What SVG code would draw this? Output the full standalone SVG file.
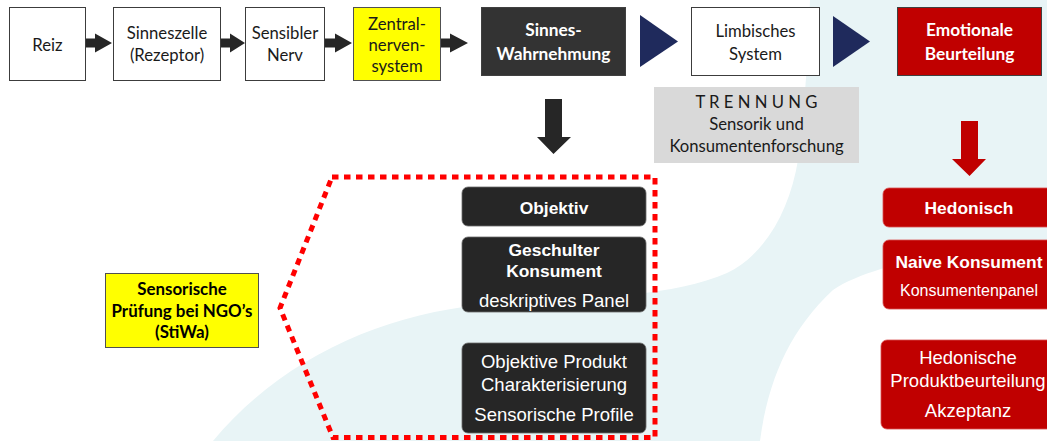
<svg xmlns="http://www.w3.org/2000/svg" width="1047" height="441" viewBox="0 0 1047 441">
<defs>
<style>
.bg{fill:#e8f4f6}
.box{fill:#ffffff;stroke:#3c3c3c;stroke-width:1}
.yel{fill:#ffff00;stroke:#505050;stroke-width:1}
.dkh{fill:#333333;stroke:#404040;stroke-width:1}
.rdh{fill:#c00000;stroke:#404040;stroke-width:1}
.gray{fill:#d9d9d9}
.arr{fill:#262626}
.navy{fill:#1f2a5c}
.rarr{fill:#c00000}
.dk{fill:#262626;stroke:#6a6a6a;stroke-width:0.8}
.rd{fill:#c00000;stroke:#d85050;stroke-width:0.8}
.dots{fill:none;stroke:#ff0000;stroke-width:5;stroke-dasharray:6.5 5.5}
.c{font-family:Lato,"Open Sans","Liberation Sans",sans-serif;font-size:16.7px;fill:#1a1a1a;text-anchor:middle}
.cb{font-family:Lato,"Open Sans","Liberation Sans",sans-serif;font-size:17.3px;font-weight:bold;text-anchor:middle}
.a{font-family:"Liberation Sans",Arial,sans-serif;font-size:18.5px;fill:#ffffff;text-anchor:middle}
.ab{font-family:"Liberation Sans",Arial,sans-serif;font-size:17.4px;font-weight:bold;fill:#ffffff;text-anchor:middle}
.wf{fill:#ffffff}
.kf{fill:#000000;font-size:16.9px}
</style>
</defs>
<rect width="1047" height="441" fill="#ffffff"/>
<path class="bg" d="M810,0 H1047 V245 C950,250 870,265 833,290 C790,330 768,380 760,441 H213 C280,360 380,315 480,305 C580,298 670,298 727,273 C765,255 790,210 798,160 C805,110 808,50 810,0 Z"/>

<g id="connectors">
<path class="arr" d="M86,38.5 H95 V33.5 L112,43 L95,52.5 V47.5 H86 Z"/>
<path class="arr" d="M221,38.5 H230 V33.5 L245,43 L230,52.5 V47.5 H221 Z"/>
<path class="arr" d="M325,38.5 H335 V33.5 L352,43 L335,52.5 V47.5 H325 Z"/>
<path class="arr" d="M441,38.5 H450 V33.5 L468,43 L450,52.5 V47.5 H441 Z"/>
<path class="navy" d="M640,15 L678,41.5 L640,67 Z"/>
<path class="navy" d="M833,16 L870,41.5 L833,67 Z"/>
<path class="arr" d="M545,99 H562 V137 H571 L553.5,154 L537,137 H545 Z"/>
<path class="rarr" d="M961,121 H978 V159 H986 L969.5,176 L952,159 H961 Z"/>
<path class="dots" d="M332,177 H655 V437.5 H333 L280,308 Z"/>
</g>

<g id="reiz"><rect class="box" x="9.5" y="7.5" width="76" height="73"/><text class="c" x="47.5" y="51">Reiz</text></g>
<g id="sinneszelle"><rect class="box" x="113.5" y="7.5" width="107" height="73"/><text class="c" x="167" y="39">Sinneszelle</text><text class="c" x="167" y="61">(Rezeptor)</text></g>
<g id="nerv"><rect class="box" x="245.5" y="7.5" width="79" height="73"/><text class="c" x="285" y="39">Sensibler</text><text class="c" x="285" y="61">Nerv</text></g>
<g id="zns"><rect class="yel" x="353.5" y="7.5" width="87" height="73"/><text class="c" x="397" y="29.5">Zentral-</text><text class="c" x="397" y="50.5">nerven-</text><text class="c" x="397" y="71.5">system</text></g>
<g id="wahrnehmung"><rect class="dkh" x="481.5" y="7.5" width="144" height="68"/><text class="cb wf" x="553.5" y="36">Sinnes-</text><text class="cb wf" x="553.5" y="60">Wahrnehmung</text></g>
<g id="limbisch"><rect class="box" x="691.5" y="7.5" width="128" height="68"/><text class="c" x="755.5" y="37">Limbisches</text><text class="c" x="755.5" y="60">System</text></g>
<g id="emotional"><rect class="rdh" x="897.5" y="7.5" width="144" height="68"/><text class="cb wf" x="969.5" y="36">Emotionale</text><text class="cb wf" x="969.5" y="60">Beurteilung</text></g>

<g id="trennung"><rect class="gray" x="654" y="87" width="205" height="76"/><text class="c" x="756.5" y="108">T R E N N U N G</text><text class="c" x="756.5" y="130">Sensorik und</text><text class="c" x="756.5" y="152">Konsumentenforschung</text></g>

<g id="ngo"><rect class="yel" x="105.5" y="273.5" width="153" height="74"/><text class="cb kf" x="182" y="295">Sensorische</text><text class="cb kf" x="182" y="317">Prüfung bei NGO’s</text><text class="cb kf" x="182" y="338">(StiWa)</text></g>

<g id="objektiv"><rect class="dk" x="462" y="187" width="184" height="39" rx="6"/><text class="ab" x="554" y="214">Objektiv</text></g>
<g id="geschult"><rect class="dk" x="462" y="237" width="184" height="75" rx="6"/><text class="ab" x="554" y="256">Geschulter</text><text class="ab" x="554" y="277">Konsument</text><text class="a" x="554" y="307">deskriptives Panel</text></g>
<g id="profil"><rect class="dk" x="462" y="343" width="184" height="90" rx="6"/><text class="a" x="554" y="368">Objektive Produkt</text><text class="a" x="554" y="391">Charakterisierung</text><text class="a" x="554" y="421">Sensorische Profile</text></g>

<g id="hedonisch"><rect class="rd" x="883" y="188" width="172" height="39" rx="6"/><text class="ab" x="969" y="214">Hedonisch</text></g>
<g id="naiv"><rect class="rd" x="883" y="240" width="172" height="69" rx="6"/><text class="ab" x="969" y="268">Naive Konsument</text><text class="a" x="969" y="296" style="font-size:16px">Konsumentenpanel</text></g>
<g id="akzeptanz"><rect class="rd" x="881" y="340" width="174" height="89" rx="6"/><text class="a" x="968" y="364">Hedonische</text><text class="a" x="968" y="387">Produktbeurteilung</text><text class="a" x="968" y="417">Akzeptanz</text></g>
</svg>
